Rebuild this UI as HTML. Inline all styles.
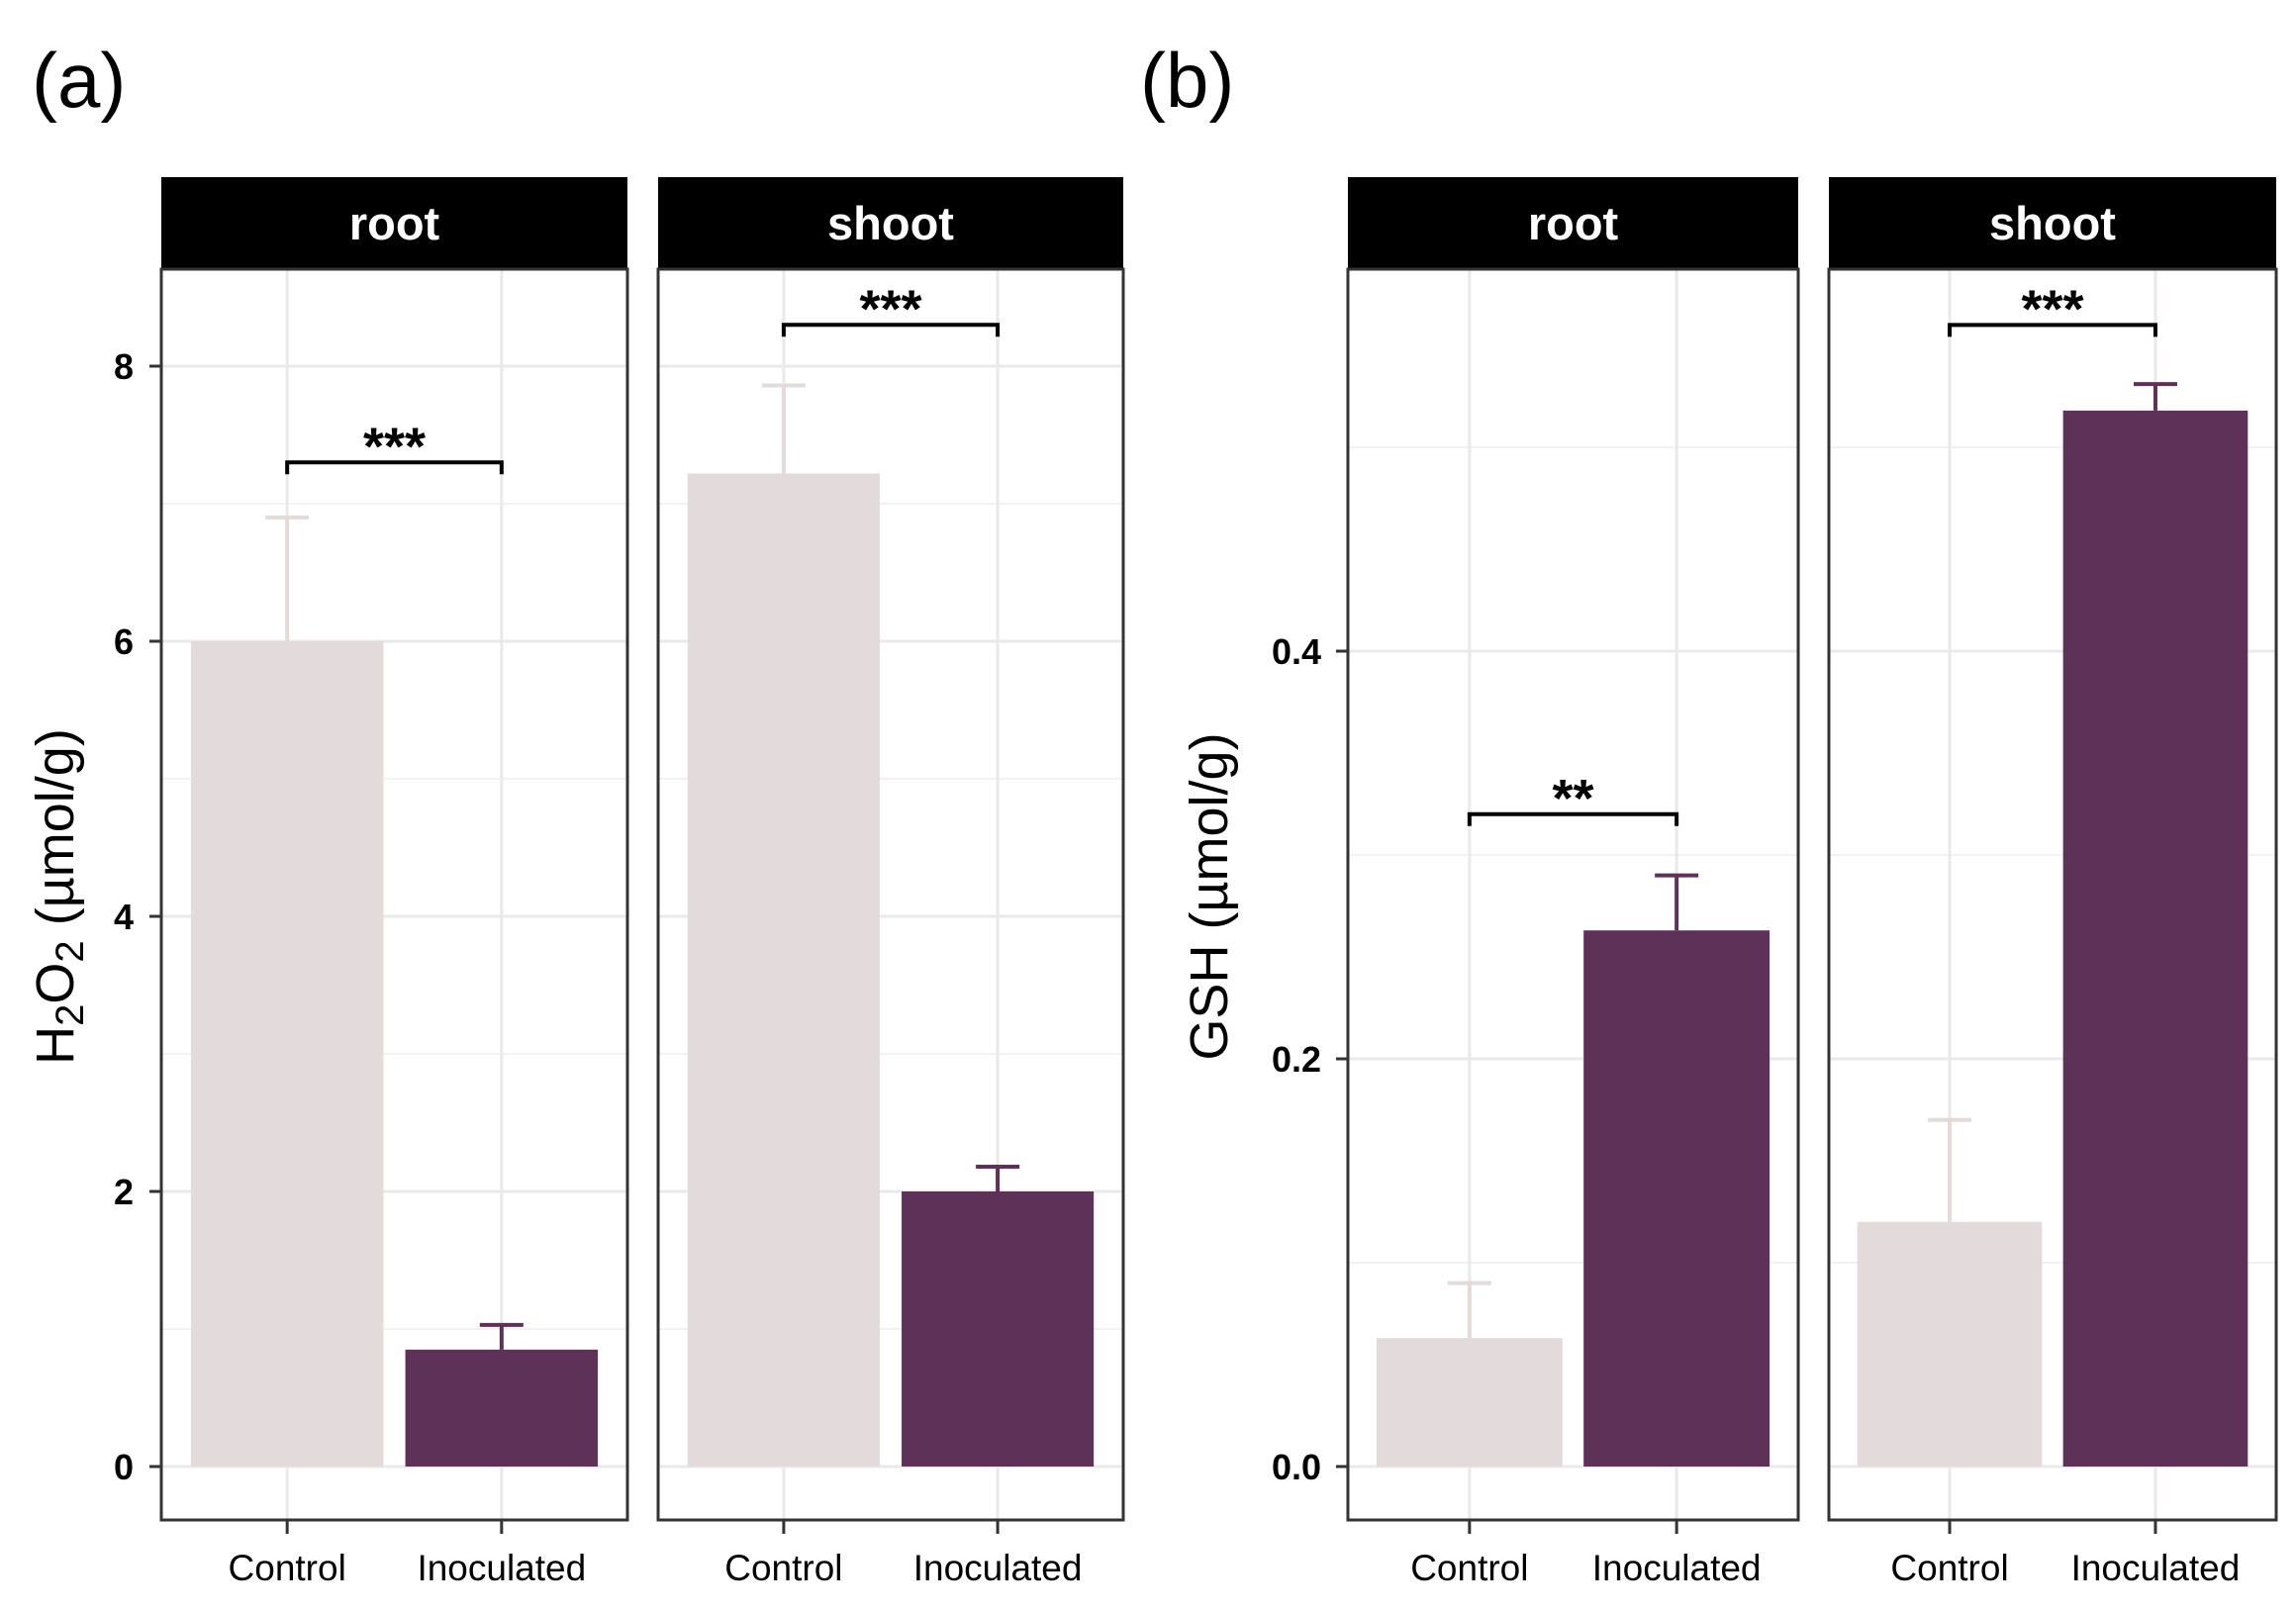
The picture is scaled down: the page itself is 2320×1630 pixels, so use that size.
<!DOCTYPE html>
<html><head><meta charset="utf-8"><style>html,body{margin:0;padding:0;background:#fff}svg{display:block}text{font-family:"Liberation Sans",sans-serif}</style></head>
<body>
<svg id="c" width="2320" height="1630" viewBox="0 0 2320 1630" xmlns="http://www.w3.org/2000/svg"></svg>
<script>
const categories = ["Control","Inoculated"];
const facets = ["root","shoot"];
const h2o2Means = [[6.0,0.85],[7.22,2.0]];
const h2o2Upper = [[6.9,1.03],[7.86,2.18]];
const gshMeans = [[0.063,0.263],[0.12,0.518]];
const gshUpper = [[0.09,0.29],[0.17,0.531]];
const h2o2Ticks = [0,2,4,6,8];
const h2o2Minor = [1,3,5,7];
const gshTicks = [0.0,0.2,0.4];
const gshTickLabels = ["0.0","0.2","0.4"];
const gshMinor = [0.1,0.3,0.5];
const h2o2Sig = [["***",7.3],["***",8.3]];
const gshSig = [["**",0.32],["***",0.56]];

const NS="http://www.w3.org/2000/svg";
const svg=document.getElementById('c');
function mk(tag,attrs,parent){const e=document.createElementNS(NS,tag);for(const k in attrs)e.setAttribute(k,attrs[k]);(parent||svg).appendChild(e);return e;}
const COL=["#e3dbdb","#5e3159"];
const TOP=272, BOT=1536, Y0=1482;

function drawFigure(id,panels,scalePer,means,upper,ticks,tickLabels,minor,sig,tickX,title,titleX,letter,letterX){
  const g=mk('g',{});
  
  
  const yS=v=>Y0-v*scalePer;
  const lt=mk('text',{x:letterX,y:108,'font-size':78},g);lt.textContent=letter;
  
  panels.forEach((p,fi)=>{
    const [L,R]=p;const w=R-L;
    const cx=i=>L+w*(0.27+0.46*i);
    const bw=w*0.413;
    const pg=mk('g',{},g);
    
    const st=mk('rect',{x:L,y:179,width:w,height:TOP-179,fill:'#000'},pg);
    
    const stt=mk('text',{x:(L+R)/2,y:242,'font-size':47,'font-weight':'bold',fill:'#fff','text-anchor':'middle'},pg);stt.textContent=facets[fi];
    
    minor.forEach(v=>{const l=mk('line',{x1:L,x2:R,y1:yS(v),y2:yS(v),stroke:'#f3f1f1','stroke-width':2},pg);});
    ticks.forEach(v=>{const l=mk('line',{x1:L,x2:R,y1:yS(v),y2:yS(v),stroke:'#ebe8e8','stroke-width':3},pg);});
    categories.forEach((c,i)=>{const l=mk('line',{x1:cx(i),x2:cx(i),y1:TOP,y2:BOT,stroke:'#ebe8e8','stroke-width':3},pg);});
    categories.forEach((c,i)=>{
      const m=means[fi][i],u=upper[fi][i];
      const b=mk('rect',{x:cx(i)-bw/2,y:yS(m),width:bw,height:yS(0)-yS(m),fill:COL[i]},pg);
      
      const e=mk('path',{d:`M${cx(i)},${yS(m)}V${yS(u)}M${cx(i)-22},${yS(u)}H${cx(i)+22}`,stroke:COL[i],'stroke-width':4,fill:'none'},pg);
      
      const tk=mk('line',{x1:cx(i),x2:cx(i),y1:BOT,y2:BOT+14,stroke:'#333','stroke-width':3},pg);
      const tl=mk('text',{x:cx(i),y:1597,'font-size':37,'text-anchor':'middle'},pg);tl.textContent=c;
      
    });
    const sy=yS(sig[fi][1]);
    const br=mk('path',{d:`M${cx(0)},${sy+12}V${sy}H${cx(1)}V${sy+12}`,stroke:'#000','stroke-width':4,fill:'none'},pg);
    
    const sx=mk('text',{x:(cx(0)+cx(1))/2,y:sy+2,'font-size':54,'font-weight':'bold','text-anchor':'middle'},pg);sx.textContent=sig[fi][0];
    
    const bd=mk('rect',{x:L,y:TOP,width:w,height:BOT-TOP,fill:'none',stroke:'#333','stroke-width':3},pg);
    
  });
  const L0=panels[0][0];
  ticks.forEach((v,i)=>{
    const tk=mk('line',{x1:L0-12,x2:L0,y1:yS(v),y2:yS(v),stroke:'#333','stroke-width':3},g);
    const tl=mk('text',{x:tickX,y:yS(v)+13,'font-size':36,'font-weight':'bold','text-anchor':'end'},g);tl.textContent=tickLabels[i];
    
  });
  const yt=mk('text',{x:0,y:0,'font-size':54,'text-anchor':'middle',transform:`translate(${titleX},906) rotate(-90)`},g);
  yt.innerHTML=title;
  
}
drawFigure('a',[[163,634],[665,1135]],139,h2o2Means,h2o2Upper,h2o2Ticks,h2o2Ticks.map(String),h2o2Minor,h2o2Sig,135,'H<tspan font-size="40" dy="10">2</tspan><tspan dy="-10">O</tspan><tspan font-size="40" dy="10">2</tspan><tspan dy="-10"> (µmol/g)</tspan>',74,'(a)',32);
drawFigure('b',[[1362,1817],[1848,2300]],2060,gshMeans,gshUpper,gshTicks,gshTickLabels,gshMinor,gshSig,1335,'GSH (µmol/g)',1240,'(b)',1152);
</script>
</body></html>
